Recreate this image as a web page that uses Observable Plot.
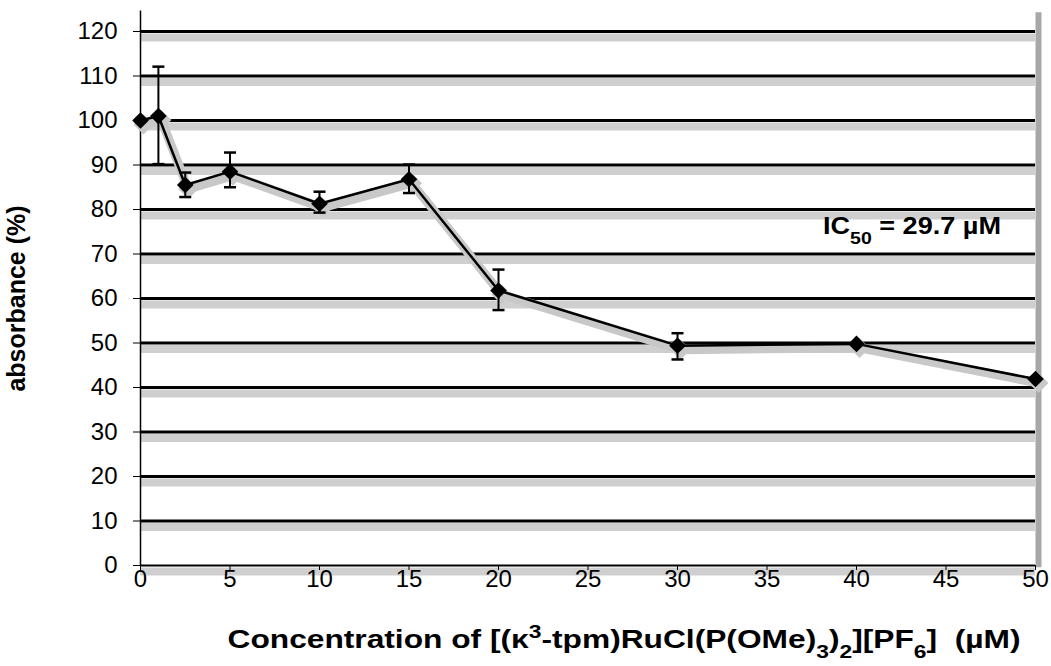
<!DOCTYPE html>
<html><head><meta charset="utf-8">
<script src="https://cdn.jsdelivr.net/npm/d3@7"></script>
<script src="https://cdn.jsdelivr.net/npm/@observablehq/plot@0.6"></script>
<style>
body{margin:0;background:#fff;}
#chart svg{font-family:"Liberation Sans",Arial,sans-serif;}
</style>
</head><body><div id="chart"></div>
<script>
// ---- data ----
const concentrations = [0, 1, 2.5, 5, 10, 15, 20, 30, 40, 50];
const absorbance     = [100, 101, 85.5, 88.5, 81.3, 86.8, 61.8, 49.4, 49.8, 41.9];
const errLow         = [null, 90.2, 82.8, 85.0, 79.3, 83.7, 57.4, 46.3, null, null];
const errHigh        = [null, 112.1, 88.3, 92.8, 84.0, 90.1, 66.5, 52.2, null, null];
const xTicks = [0, 5, 10, 15, 20, 25, 30, 35, 40, 45, 50];
const yTicks = [0, 10, 20, 30, 40, 50, 60, 70, 80, 90, 100, 110, 120];
const annotationX = [43.1];
const annotationY = [76.2];
const annotationText = ["IC50 = 29.7 µM"];
const xLabel = "Concentration of [(κ3-tpm)RuCl(P(OMe)3)2][PF6]  (µM)";
const yLabel = "absorbance (%)";

const points = concentrations.map((c, i) => ({c, a: absorbance[i], lo: errLow[i], hi: errHigh[i]}));
const errs = points.filter(d => d.lo != null);
const caps = errs.flatMap(d => [{c: d.c, v: d.lo}, {c: d.c, v: d.hi}]);
const ann = annotationX.map((x, i) => ({x, y: annotationY[i], t: annotationText[i]}));

const capSymbol = {draw(ctx) { ctx.moveTo(-6, 0); ctx.lineTo(6, 0); }};

const chart = Plot.plot({
  width: 1051, height: 666,
  marginLeft: 140, marginRight: 16, marginTop: 31, marginBottom: 101,
  style: {fontSize: "24px", fontFamily: "'Liberation Sans', Arial, sans-serif", color: "#000", background: "#fff"},
  x: {domain: [0, 50]},
  y: {domain: [0, 120]},
  marks: [
    Plot.ruleY(yTicks, {stroke: "#cfcfcf", strokeWidth: 8, dy: 6}),
    Plot.ruleY(yTicks, {stroke: "#000", strokeWidth: d => d === 0 ? 2 : 3}),
    Plot.ruleX([0], {y1: 0, y2: 124.6, stroke: "#000", strokeWidth: 1.5}),
    Plot.ruleX([50], {y1: -0.5, y2: 124.2, stroke: "#a8a8a8", strokeWidth: 6, dx: 3}),
    Plot.line(points, {x: "c", y: "a", stroke: "#c8c8c8", strokeWidth: 9, dx: 3, dy: 4}),
    Plot.dot(points, {x: "c", y: "a", symbol: "diamond2", fill: "#c8c8c8", r: 9, dx: 3, dy: 4}),
    Plot.ruleX(errs, {x: "c", y1: "lo", y2: "hi", stroke: "#000", strokeWidth: 2}),
    Plot.dot(caps, {x: "c", y: "v", symbol: capSymbol, stroke: "#000", fill: "none", strokeWidth: 2.5}),
    Plot.line(points, {x: "c", y: "a", stroke: "#000", strokeWidth: 2.5}),
    Plot.dot(points, {x: "c", y: "a", symbol: "diamond2", fill: "#000", stroke: "none", r: 7.5}),
    Plot.text(ann, {x: "x", y: "y", text: "t", fontSize: 24, fontWeight: "bold", fill: "#000", className: "ic50"}),
    Plot.axisX({ticks: xTicks, tickSize: 5, tickPadding: -1, label: xLabel, labelAnchor: "center", labelOffset: 82, labelArrow: false}),
    Plot.axisY({ticks: yTicks, tickSize: 7, tickPadding: 16, label: yLabel, labelAnchor: "center", labelOffset: 133, labelArrow: false})
  ]
});
document.getElementById("chart").appendChild(chart);

function rich(textEl, parts) {
  while (textEl.firstChild) textEl.removeChild(textEl.firstChild);
  textEl.setAttribute("xml:space", "preserve");
  textEl.style.whiteSpace = "pre";
  for (const [s, kind] of parts) {
    const t = document.createElementNS("http://www.w3.org/2000/svg", "tspan");
    t.textContent = s;
    if (kind === "sub") { t.setAttribute("baseline-shift", "sub"); t.setAttribute("font-size", "0.72em"); }
    if (kind === "sup") { t.setAttribute("baseline-shift", "super"); t.setAttribute("font-size", "0.72em"); }
    textEl.appendChild(t);
  }
}
const xl = chart.querySelector('g[aria-label="x-axis label"] text');
if (xl) {
  xl.setAttribute("font-weight", "bold"); xl.style.fontSize = "25px";
  rich(xl, [["Concentration of [(κ"], ["3", "sup"], ["-tpm)RuCl(P(OMe)"], ["3", "sub"], [")"], ["2", "sub"], ["][PF"], ["6", "sub"], ["]  (µM)"]]);
  xl.setAttribute("dx", "36");
  xl.setAttribute("textLength", "793");
  xl.setAttribute("lengthAdjust", "spacingAndGlyphs");
}
const yl = chart.querySelector('g[aria-label="y-axis label"] text');
if (yl) { yl.setAttribute("font-weight", "bold"); yl.style.fontSize = "25px"; }
chart.querySelectorAll(".ic50 text").forEach(t => {
  rich(t, [["IC"], ["50", "sub"], [" = 29.7 µM"]]);
  t.setAttribute("textLength", "178");
  t.setAttribute("lengthAdjust", "spacingAndGlyphs");
});
</script>
</body></html>
